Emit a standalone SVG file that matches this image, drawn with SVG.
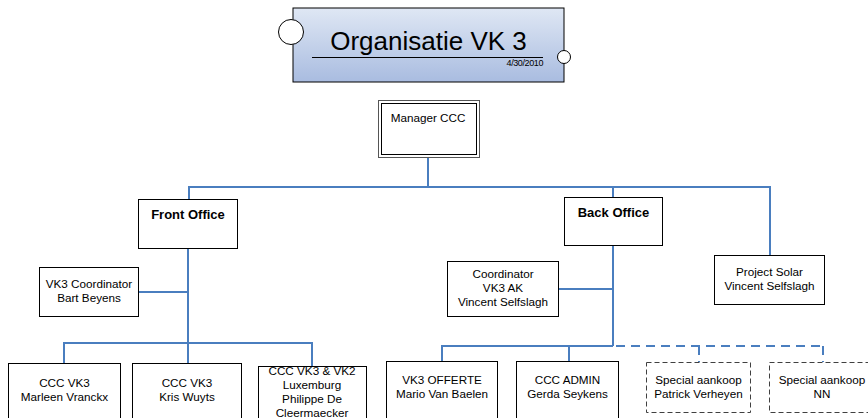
<svg xmlns="http://www.w3.org/2000/svg" width="868" height="418" viewBox="0 0 868 418">
<defs>
<linearGradient id="tg" x1="0" y1="0" x2="0" y2="1">
<stop offset="0" stop-color="#dfe7f4"/>
<stop offset="1" stop-color="#a9bce0"/>
</linearGradient>
<style>
.box{fill:#fff;stroke:#000;stroke-width:1}
.dbox{fill:#fff;stroke:#404040;stroke-width:1;stroke-dasharray:5,3}
.t{font-family:"Liberation Sans",Arial,sans-serif;font-size:11.7px;fill:#000;text-anchor:middle}
.b{font-family:"Liberation Sans",Arial,sans-serif;font-size:13px;font-weight:bold;fill:#000;text-anchor:middle}
.c{fill:none;stroke:#4a7ebf;stroke-width:2}
.cd{fill:none;stroke:#4a7ebf;stroke-width:2;stroke-dasharray:9,6}
</style>
</defs>
<g id="title">
<rect x="293" y="8" width="271" height="74" fill="url(#tg)" stroke="#000" stroke-width="1"/>
<circle cx="291" cy="32" r="12.5" fill="#fff" stroke="#000" stroke-width="1"/>
<circle cx="564" cy="57" r="6.5" fill="#fff" stroke="#000" stroke-width="1"/>
<text x="428.5" y="50" font-family="Liberation Sans,Arial,sans-serif" font-size="26" text-anchor="middle">Organisatie VK 3</text>
<line x1="312" y1="57.5" x2="543" y2="57.5" stroke="#000" stroke-width="1"/>
<text x="543" y="66" font-family="Liberation Sans,Arial,sans-serif" font-size="9" text-anchor="end" letter-spacing="-0.4">4/30/2010</text>
</g>
<g id="connectors">
<polyline class="c" points="428,158 428,187"/>
<polyline class="c" points="189,199 189,187 770,187 770,255"/>
<polyline class="c" points="613,187 613,197"/>
<polyline class="c" points="188,249 188,343"/>
<polyline class="c" points="139,292 188,292"/>
<polyline class="c" points="64,363 64,343 312,343 312,367"/>
<polyline class="c" points="188,343 188,363"/>
<polyline class="c" points="613,246 613,346"/>
<polyline class="c" points="559,289 613,289"/>
<polyline class="c" points="442,361 442,346 613,346"/>
<polyline class="c" points="569,346 569,361"/>
<polyline class="cd" points="616,346 823,346"/>
<polyline class="cd" points="699,346 699,362"/>
<polyline class="cd" points="823,346 823,362"/>
</g>
<g id="manager">
<rect x="378.5" y="100.5" width="101" height="57" fill="#fff" stroke="#555" stroke-width="1"/>
<rect x="381.5" y="103.5" width="95" height="51" fill="#fff" stroke="#000" stroke-width="1"/>
<text class="t" x="428" y="122">Manager CCC</text>
</g>
<g id="front-office">
<rect class="box" x="138.5" y="199.5" width="99" height="49"/>
<text class="b" x="188" y="219">Front Office</text>
</g>
<g id="back-office">
<rect class="box" x="564.5" y="197.5" width="98" height="48"/>
<text class="b" x="613.5" y="217">Back Office</text>
</g>
<g id="vk3-coordinator">
<rect class="box" x="39.5" y="267.5" width="99" height="49"/>
<text class="t" x="89" y="288">VK3 Coordinator</text>
<text class="t" x="89" y="302">Bart Beyens</text>
</g>
<g id="coordinator-ak">
<rect class="box" x="447.5" y="261.5" width="111" height="55"/>
<text class="t" x="503" y="278">Coordinator</text>
<text class="t" x="503" y="292">VK3 AK</text>
<text class="t" x="503" y="306">Vincent Selfslagh</text>
</g>
<g id="project-solar">
<rect class="box" x="714.5" y="255.5" width="110" height="49"/>
<text class="t" x="769.5" y="276">Project Solar</text>
<text class="t" x="769.5" y="290">Vincent Selfslagh</text>
</g>
<g id="ccc-marleen">
<rect class="box" x="8.5" y="363.5" width="112" height="60"/>
<text class="t" x="64.5" y="387">CCC VK3</text>
<text class="t" x="64.5" y="401">Marleen Vranckx</text>
</g>
<g id="ccc-kris">
<rect class="box" x="132.5" y="363.5" width="109" height="60"/>
<text class="t" x="187" y="387">CCC VK3</text>
<text class="t" x="187" y="401">Kris Wuyts</text>
</g>
<g id="ccc-philippe">
<rect class="box" x="258.5" y="366.5" width="108" height="60"/>
<text class="t" x="312" y="375">CCC VK3 &amp; VK2</text>
<text class="t" x="312" y="389">Luxemburg</text>
<text class="t" x="312" y="403">Philippe De</text>
<text class="t" x="312" y="417">Cleermaecker</text>
</g>
<g id="vk3-offerte">
<rect class="box" x="386.5" y="361.5" width="111" height="60"/>
<text class="t" x="442" y="384">VK3 OFFERTE</text>
<text class="t" x="442" y="398">Mario Van Baelen</text>
</g>
<g id="ccc-admin">
<rect class="box" x="516.5" y="361.5" width="102" height="60"/>
<text class="t" x="567.5" y="384">CCC ADMIN</text>
<text class="t" x="567.5" y="398">Gerda Seykens</text>
</g>
<g id="special-patrick">
<rect class="dbox" x="646.5" y="362.5" width="104" height="50"/>
<text class="t" x="698.5" y="384">Special aankoop</text>
<text class="t" x="698.5" y="398">Patrick Verheyen</text>
</g>
<g id="special-nn">
<rect class="dbox" x="769.5" y="362.5" width="110" height="50"/>
<text class="t" x="822" y="384">Special aankoop</text>
<text class="t" x="822" y="398">NN</text>
</g>
</svg>
